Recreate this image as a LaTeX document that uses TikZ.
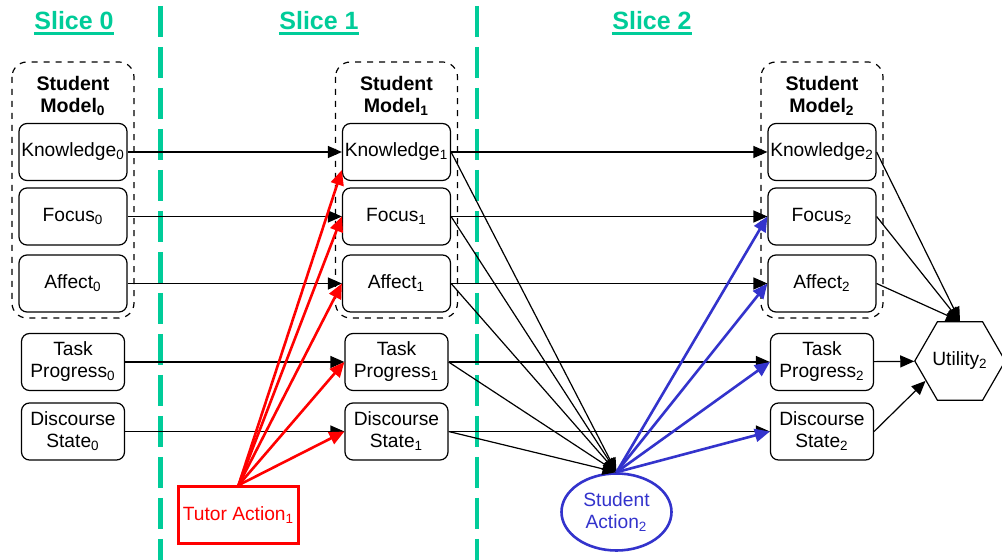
\documentclass[tikz,border=0pt]{standalone}
\usepackage{fontspec}
\setmainfont{Liberation Sans}
\usetikzlibrary{shapes.geometric,arrows.meta}
\definecolor{slicegreen}{HTML}{00CC99}
\definecolor{tutorred}{HTML}{FF0000}
\definecolor{studentblue}{HTML}{3333CC}
\newcommand{\subn}[1]{\textsubscript{#1}}

\begin{document}
\begin{tikzpicture}[x=0.5pt,y=-0.5pt,
	varbox/.style={draw, rounded corners=4pt, align=center, inner sep=0pt, line width=0.6pt,
		minimum width=54pt, minimum height=28.5pt, font=\fontsize{9.6}{11}\selectfont},
	taskbox/.style={varbox, minimum width=51.5pt},
	slicetitle/.style={inner sep=0pt, anchor=base, text=slicegreen, font=\fontsize{12.5}{15}\selectfont\bfseries},
	modeltitle/.style={align=center, inner sep=0pt, font=\fontsize{9.8}{11}\selectfont\bfseries},
	flow/.style={line width=0.6pt, -{Triangle[length=7pt,width=6pt]}},
	tutorflow/.style={tutorred, line width=1.3pt, -{Triangle[length=7.5pt,width=6.5pt]}},
	studentflow/.style={studentblue, line width=1.3pt, -{Triangle[length=7.5pt,width=6.5pt]}}]
	% Fixed white canvas.
	\path[use as bounding box] (0,0) rectangle (1002,560);
	\fill[white] (0,0) rectangle (1002,560);

	% Slice separators and titles.
	\foreach \x in {160.5,477} {
		\draw[slicegreen, line width=2.3pt, dash pattern=on 15.5pt off 5pt] (\x,6) -- (\x,560);
	}
	\foreach \s/\x in {0/74,1/319,2/652} {
		\node[slicetitle] (slice\s) at (\x,30) {Slice \s};
		\draw[slicegreen, line width=1.5pt] ([yshift=-1.8pt]slice\s.base west) -- ([yshift=-1.8pt]slice\s.base east);
	}

	% Student model groups and the state variables of each slice.
	\foreach \s/\x in {0/73,1/396.5,2/822} {
		\draw[dashed, line width=0.6pt, rounded corners=7.5pt] (\x-61,62) rectangle (\x+61,318);
		\node[modeltitle] (model\s) at (\x,96) {Student\\Model\subn{\s}};
		\node[varbox] (know\s) at (\x,152) {Knowledge\subn{\s}};
		\node[varbox] (focus\s) at (\x,216.5) {Focus\subn{\s}};
		\node[varbox] (affect\s) at (\x,283.5) {Affect\subn{\s}};
		\node[taskbox] (task\s) at (\x,362) {Task\\Progress\subn{\s}};
		\node[taskbox] (disc\s) at (\x,431.5) {Discourse\\State\subn{\s}};
	}

	% Actions and utility.
	\node[draw=tutorred, line width=1.3pt, minimum width=60pt, minimum height=28.5pt, inner sep=0pt,
		text=tutorred, font=\fontsize{9.6}{11}\selectfont] (tact) at (238.5,515) {Tutor Action\subn{1}};
	\node[ellipse, draw=studentblue, line width=1.3pt, minimum width=55pt, minimum height=38.5pt, inner sep=0pt,
		align=center, text=studentblue, font=\fontsize{9.6}{11}\selectfont] (sact) at (616.5,512) {Student\\Action\subn{2}};
	\node[regular polygon, regular polygon sides=6, draw, line width=0.6pt, minimum size=43pt, inner sep=0pt,
		font=\fontsize{9.6}{11}\selectfont] (util) at (960,361) {Utility\subn{2}};

	% Transitions between slices.
	\foreach \v in {know,focus,affect,task,disc} {
		\draw[flow] (\v0) -- (\v1);
		\draw[flow] (\v1) -- (\v2);
		\draw[flow] (\v1.east) -- (sact.north);
	}

	% Tutor action effects.
	\draw[tutorflow] (tact.north) -- ([yshift=-9pt]know1.west);
	\foreach \v in {focus,affect,task,disc} {
		\draw[tutorflow] (tact.north) -- (\v1.west);
	}

	% Student action effects.
	\foreach \v in {focus,affect,task,disc} {
		\draw[studentflow] (sact.north) -- (\v2.west);
	}

	% Utility inputs.
	\foreach \v in {know,focus,affect} {
		\draw[flow] (\v2.east) -- (util.north);
	}
	\draw[flow] (task2) -- (util);
	\draw[flow] (disc2.east) -- (util.210);
\end{tikzpicture}
\end{document}
